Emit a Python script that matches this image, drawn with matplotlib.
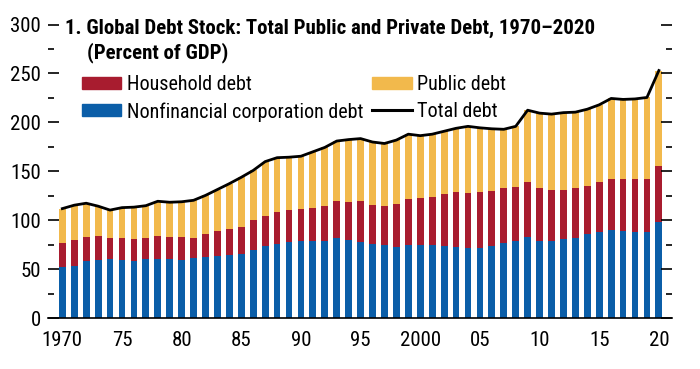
import numpy as np
import matplotlib
matplotlib.use('Agg')
import matplotlib.pyplot as plt
from matplotlib.lines import Line2D
from matplotlib.patches import Patch
from matplotlib import font_manager

# prefer a narrow font like the original, else plain Arial-metric font
names = set(f.name for f in font_manager.fontManager.ttflist)
narrow = None
for n in ['Liberation Sans Narrow', 'Roboto Condensed', 'Open Sans Condensed', 'Noto Sans Condensed']:
    if n in names:
        narrow = n
        break
if narrow:
    plt.rcParams['font.family'] = [narrow, 'DejaVu Sans']
    fs_tick, fs_leg, fs_title = 15, 14.5, 15
else:
    plt.rcParams['font.family'] = ['Liberation Sans', 'DejaVu Sans']
    fs_tick, fs_leg, fs_title = 13, 12.6, 12

years = list(range(1970, 2021))

# percent of GDP
nonfin_corp = [52, 53, 58, 59.5, 60.5, 60, 59, 60.5, 61, 61, 60, 62, 63, 63.5, 65, 66,
               70, 74, 76, 77.5, 79, 79, 79, 81.5, 80, 77.5, 75.5, 74.5, 73, 74.5,
               74.5, 74.5, 74, 73, 71.5, 72, 74, 76.5, 79, 83, 79, 79, 80.5, 82.5, 86,
               88, 90, 89, 88.5, 88.5, 98]
household = [25, 27, 25, 24.5, 21, 21.5, 21.5, 21, 23, 22, 23, 20.5, 23, 25.5, 26.5, 27.5,
             30, 30.5, 32.5, 33.5, 33, 34, 35.5, 38, 38.5, 42, 40, 40, 43.5, 47,
             48, 49, 52.5, 55.5, 56, 56.5, 56, 57, 55, 56, 54, 52.5, 51, 51, 49,
             51.5, 52, 53, 53.5, 53.5, 57.5]
total = [112, 115.5, 117.5, 114.5, 110.5, 113, 113.5, 115, 119.5, 118.5, 119, 120.5, 125.5, 131.5,
         137.5, 144, 151, 160, 164, 164.5, 165.5, 170, 174.5, 181, 182.5, 183.5, 180, 178.5,
         182, 188, 186.5, 188, 191, 194, 196, 194.5, 193.5, 193, 196, 212.5, 209.5, 208.5,
         210, 210.5, 213.5, 218, 224.5, 223.5, 224, 225.5, 253]
public = [t - c - h for t, c, h in zip(total, nonfin_corp, household)]

blue = '#0b5ea8'
red = '#a81c2f'
yellow = '#f2b94c'

fig = plt.figure(figsize=(7, 3.69), dpi=100)
ax = fig.add_axes([48 / 700, 1 - 318.3 / 369, 624 / 700, 293.8 / 369])

w = 0.57
ax.bar(years, nonfin_corp, width=w, color=blue, label='Nonfinancial corporation debt')
ax.bar(years, household, width=w, bottom=nonfin_corp, color=red, label='Household debt')
bot = [c + h for c, h in zip(nonfin_corp, household)]
ax.bar(years, public, width=w, bottom=bot, color=yellow, label='Public debt')
ax.plot(years, total, color='black', lw=2.0, label='Total debt')

ax.set_xlim(1968.8, 2021.1)
ax.set_ylim(0, 300)
for s in ['top', 'left', 'right']:
    ax.spines[s].set_visible(False)
ax.spines['bottom'].set_linewidth(1.2)

ax.set_yticks(range(0, 301, 50))
ax.set_yticks(range(25, 300, 50), minor=True)
ax.tick_params(axis='y', which='both', direction='in', left=True, right=True,
               labelleft=True, labelright=False, labelsize=fs_tick, pad=5)
ax.tick_params(axis='y', which='major', length=8, width=1.2)
ax.tick_params(axis='y', which='minor', length=4, width=1.2)

xt = [1970, 1975, 1980, 1985, 1990, 1995, 2000, 2005, 2010, 2015, 2020]
xl = ['1970', '75', '80', '85', '90', '95', '2000', '05', '10', '15', '20']
ax.set_xticks(xt)
ax.set_xticklabels(xl)
ax.tick_params(axis='x', length=0, labelsize=fs_tick, pad=9)

fig.text(65 / 700, 1 - 19 / 369, '1. Global Debt Stock: Total Public and Private Debt, 1970\u20132020',
         fontsize=fs_title, fontweight='bold', va='top', ha='left')
fig.text(87 / 700, 1 - 42 / 369, '(Percent of GDP)', fontsize=fs_title, fontweight='bold',
         va='top', ha='left')

handles = [Patch(color=red), Patch(color=blue), Patch(color=yellow),
           Line2D([], [], color='black', lw=2.2)]
labels = ['Household debt', 'Nonfinancial corporation debt', 'Public debt', 'Total debt']
fig.legend(handles, labels, ncol=2, loc='upper left', bbox_to_anchor=(82 / 700, 1 - 75 / 369),
           frameon=False, fontsize=fs_leg, borderpad=0, borderaxespad=0, handlelength=1.95,
           handleheight=0.55, handletextpad=0.28, labelspacing=0.4, columnspacing=0.45)

fig.savefig('out.png', dpi=100)
